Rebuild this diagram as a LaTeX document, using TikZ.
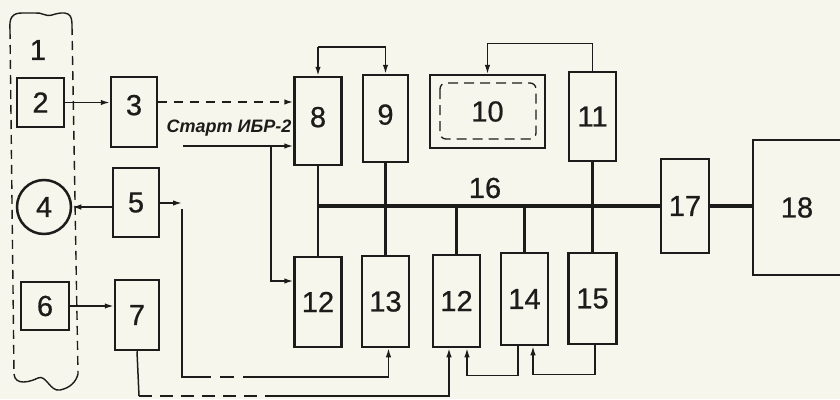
\documentclass[tikz,border=0pt]{standalone}
\usepackage{fontspec}
\setmainfont{Liberation Sans}
\newfontfamily\numfont{Liberation Sans}[FakeBold=0.7]
\usetikzlibrary{arrows.meta}
\definecolor{paper}{RGB}{247,246,236}
\definecolor{ink}{RGB}{28,28,26}
\begin{document}
\begin{tikzpicture}[x=1pt,y=-1pt,
  box/.style={draw=ink,line width=2.5pt,inner sep=0pt,font=\numfont\fontsize{29}{29}\selectfont,text=ink},
  conn/.style={draw=ink,line width=1.5pt},
  arr/.style={conn,-{Latex[length=9pt,width=5.5pt]}},
  bus/.style={draw=ink,line width=3.4pt},
  tap/.style={draw=ink,line width=2.5pt},
  lbl/.style={font=\numfont\fontsize{29}{29}\selectfont,text=ink,inner sep=0pt},
  dsh/.style={dash pattern=on 9pt off 7pt},
  frame/.style={draw=ink,line width=1.4pt}]
\fill[paper] (0,0) rectangle (840,399);
\useasboundingbox (0,0) rectangle (840,399);

% region 1
\draw[frame,dash pattern=on 9pt off 6pt] (10,30) -- (14,374);
\draw[frame,dash pattern=on 9pt off 6pt] (72,26) -- (78,374);
\draw[frame] (10,30) .. controls (9,18) and (12,13) .. (22,13) -- (35,13)
  .. controls (42,12) and (45,17) .. (52,15) .. controls (58,13) and (64,12) .. (68,14)
  .. controls (72,16) and (72,22) .. (72,26);
\draw[frame] (14,374) .. controls (15,386) and (30,382) .. (38,378)
  .. controls (46,374) and (50,392) .. (60,390) .. controls (70,388) and (76,382) .. (78,374);
\node[lbl] (l1) at (38,50) {1};

% boxes
\node[box,minimum width=47pt,minimum height=49pt] (b2) at (40.5,102.5) {2};
\node[box,minimum width=46pt,minimum height=70pt,text depth=14pt] (b3) at (134,112) {3};
\node[box,circle,minimum size=54pt] (c4) at (44,207) {4};
\node[box,minimum width=46pt,minimum height=69pt] (b5) at (136,202.5) {5};
\node[box,minimum width=48pt,minimum height=48pt] (b6) at (45,306) {6};
\node[box,minimum width=44pt,minimum height=70pt] (b7) at (137,315) {7};
\node[box,minimum width=47pt,minimum height=88pt,text depth=8pt] (b8) at (318,121) {8};
\node[box,minimum width=45pt,minimum height=87pt,text depth=8pt] (b9) at (385.5,118.5) {9};
\node[box,minimum width=115pt,minimum height=73pt] (b10) at (487.5,111.5) {10};
\node[box,minimum width=47pt,minimum height=89pt] (b11) at (592.5,116.5) {11};
\node[box,minimum width=47pt,minimum height=90pt] (b12a) at (318,302) {12};
\node[box,minimum width=47pt,minimum height=91pt] (b13) at (385.5,301.5) {13};
\node[box,minimum width=47pt,minimum height=92pt] (b12b) at (456.5,301) {12};
\node[box,minimum width=47pt,minimum height=92pt] (b14) at (524.5,299) {14};
\node[box,minimum width=48pt,minimum height=91pt] (b15) at (592.5,298.5) {15};
\node[box,minimum width=48pt,minimum height=94pt] (b17) at (685,206) {17};
\node[box,minimum width=88pt,minimum height=135pt] (b18) at (797,207.5) {18};

% inner dashed screen of 10
\draw[frame,line width=1.3pt,dash pattern=on 10pt off 6pt,rounded corners=6pt]
  (440,83) rectangle (536,139);

% left-side connectors
\draw[arr] (b2.east) -- (b2.east -| b3.west);
\draw[arr] (b5.west |- c4.east) -- (c4.east);
\draw[arr] (b6.east) -- (b6.east -| b7.west);
\coordinate (p5) at (182,203);
\draw[arr] (b5.east |- p5) -- (p5);

% 3 -> 8 dashed
\draw[arr,dsh] ([yshift=10pt]b3.east) -- ([yshift=10pt]b3.east -| b8.west);

% Start label and lines
\node[text=ink,inner sep=0pt,font=\fontsize{18}{18}\selectfont\bfseries\itshape] (st) at (229,128) {Старт ИБР-2};
\coordinate (s0) at (183,146);
\coordinate (s1) at (271,146);
\draw[arr] (s0) -- (s0 -| b8.west);
\draw[arr] (s1) |- ([yshift=21pt]b12a.west);

% top connectors 8/9
\coordinate (t89) at (0,47);
\draw[conn,line width=1.2pt] (b8.north |- t89) -- (b9.north |- t89);
\draw[arr] (b8.north |- t89) -- (b8.north);
\draw[arr] (b9.north |- t89) -- (b9.north);

% 11 -> 10
\draw[arr,line width=1.2pt] (b11.north) -- ++(0,-27) -| (b10.north);

% bus 16
\coordinate (bus) at (0,206);
\draw[bus] (b8.south |- bus) -- (b17.west);
\node[lbl] (l16) at (485,188) {16};
\draw[tap] (b8.south) -- (b12a.north);
\draw[tap] (b9.south) -- (b13.north);
\draw[tap] (b12b.north |- bus) -- (b12b.north);
\draw[tap] (b14.north |- bus) -- (b14.north);
\draw[tap] (b11.south) -- (b15.north);
\draw[bus] (b17.east) -- (b17.east -| b18.west);

% 5 -> 13 bottom line
\coordinate (q0) at (182,209);
\coordinate (q2) at (197,377);
\coordinate (q3) at (252,377);
\draw[conn] (q0) |- (q2);
\draw[conn,dash pattern=on 14pt off 9pt] (q2) -- (q3);
\draw[arr] (q3) -| ([xshift=3pt]b13.south);

% 7 -> 12b
\coordinate (r1) at (139,396);
\coordinate (r2) at (272,396);
\draw[conn] (b7.south) -- (r1);
\draw[conn,dash pattern=on 13pt off 8pt] (r1) -- (r2);
\draw[arr] (r2) -| ([xshift=-7.5pt]b12b.south);

% 14 -> 12b, 15 -> 14
\draw[arr] ([xshift=-6.5pt]b14.south) -- ++(0,29) -| ([xshift=10.5pt]b12b.south);
\draw[arr] ([xshift=2.5pt]b15.south) -- ++(0,29) -| ([xshift=8.5pt]b14.south);
\end{tikzpicture}
\end{document}
